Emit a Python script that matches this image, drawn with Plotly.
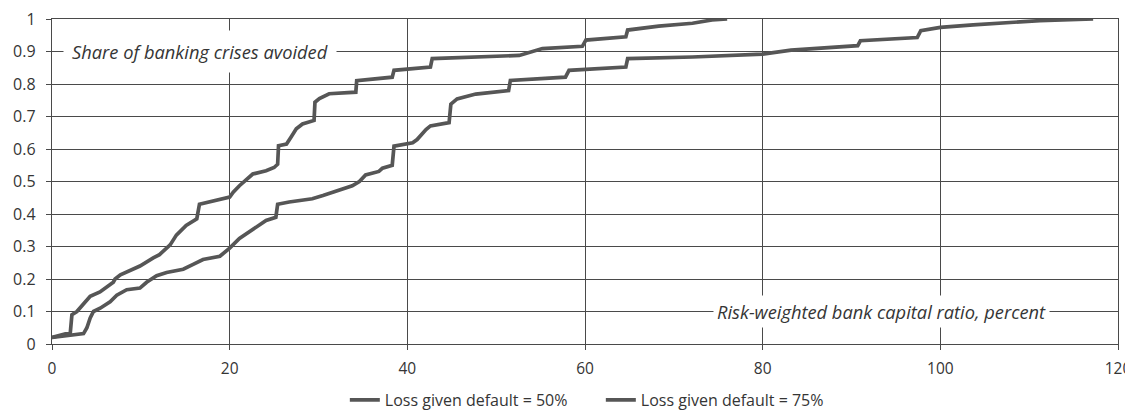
import plotly.graph_objects as go

# Loss given default = 50%
lgd50_x = [0, 2.06, 2.24, 2.8, 4.3, 5.4, 6.9, 7.1, 7.7, 9.9, 11.4, 12.1, 13.3, 14.0, 15.1, 16.3, 16.6,
           20.0, 20.4, 21.1, 22.6, 24.1, 25.0, 25.4, 25.5, 26.4, 26.9, 27.5, 28.2, 29.5, 29.6, 30.1,
           31.2, 34.2, 34.3, 36.8, 38.3, 38.5, 42.6, 42.8, 52.6, 55.2, 59.7, 60.1, 64.6, 64.8, 68.3,
           72.1, 74.3, 76.0]
lgd50_y = [0.02, 0.035, 0.09, 0.10, 0.147, 0.16, 0.19, 0.20, 0.213, 0.24, 0.265, 0.275, 0.305, 0.335,
           0.365, 0.385, 0.43, 0.452, 0.467, 0.487, 0.523, 0.533, 0.543, 0.553, 0.61, 0.615, 0.636,
           0.662, 0.677, 0.688, 0.744, 0.755, 0.77, 0.775, 0.81, 0.817, 0.821, 0.842, 0.852, 0.878,
           0.888, 0.909, 0.916, 0.935, 0.945, 0.966, 0.978, 0.987, 0.997, 1.0]

# Loss given default = 75%
lgd75_x = [0, 3.55, 3.93, 4.3, 4.67, 5.42, 6.54, 7.29, 8.41, 9.9, 10.65, 11.78, 12.9, 14.77, 15.89,
           17.0, 18.9, 20.0, 21.1, 22.2, 23.4, 24.1, 25.2, 25.4, 26.7, 29.3, 30.5, 31.6, 33.8, 34.6,
           35.3, 36.8, 37.2, 38.3, 38.5, 40.6, 41.1, 42.1, 42.6, 44.7, 44.9, 45.6, 47.7, 51.4, 51.6,
           57.8, 58.2, 64.6, 64.8, 72.1, 80.0, 83.2, 90.7, 91.0, 97.4, 97.8, 100.0, 103.7, 107.5,
           111.2, 117.2]
lgd75_y = [0.02, 0.032, 0.05, 0.08, 0.10, 0.11, 0.13, 0.15, 0.167, 0.172, 0.19, 0.21, 0.22, 0.23,
           0.245, 0.26, 0.27, 0.295, 0.325, 0.345, 0.365, 0.38, 0.39, 0.43, 0.437, 0.447, 0.457,
           0.467, 0.487, 0.5, 0.52, 0.531, 0.541, 0.55, 0.609, 0.619, 0.629, 0.66, 0.671, 0.681,
           0.738, 0.754, 0.769, 0.78, 0.811, 0.821, 0.842, 0.852, 0.878, 0.883, 0.892, 0.904,
           0.918, 0.933, 0.943, 0.964, 0.974, 0.982, 0.99, 0.995, 1.0]

series_names = ["Loss given default = 50%", "Loss given default = 75%"]
x_ticks = [0, 20, 40, 60, 80, 100, 120]
y_ticks = [0, 0.1, 0.2, 0.3, 0.4, 0.5, 0.6, 0.7, 0.8, 0.9, 1]
y_tick_text = ["0", "0.1", "0.2", "0.3", "0.4", "0.5", "0.6", "0.7", "0.8", "0.9", "1"]

FONT = "Open Sans"
TEXT_COLOR = "#353535"
LINE_COLOR = "#565656"
GRID_COLOR = "#4a4a4a"

fig = go.Figure()
fig.add_trace(go.Scatter(x=lgd50_x, y=lgd50_y, mode="lines", name=series_names[0],
                         line=dict(color=LINE_COLOR, width=3.7)))
fig.add_trace(go.Scatter(x=lgd75_x, y=lgd75_y, mode="lines", name=series_names[1],
                         line=dict(color=LINE_COLOR, width=3.7)))

tickfont = dict(family=FONT, size=16, color=TEXT_COLOR)

# the page body has an 8px margin, so the figure is sized to fill the rest of the window
fig.update_layout(
    width=1125, height=402,
    margin=dict(l=44, r=15, t=11, b=66, autoexpand=False),
    paper_bgcolor="white", plot_bgcolor="white",
    font=dict(family=FONT, size=14, color=TEXT_COLOR),
    showlegend=True,
    legend=dict(orientation="h", x=0.2747, xanchor="left", y=-0.172, yanchor="middle",
                font=dict(family=FONT, size=16, color=TEXT_COLOR),
                entrywidth=211, entrywidthmode="pixels", tracegroupgap=0,
                bgcolor="rgba(0,0,0,0)"),
    xaxis=dict(range=[0, 120], tickvals=x_ticks, showgrid=True, gridcolor=GRID_COLOR, gridwidth=1.4,
               showline=True, linecolor=GRID_COLOR, linewidth=1.4, mirror=True, zeroline=False,
               ticks="outside", ticklen=5, tickcolor=GRID_COLOR, tickwidth=1.2,
               ticklabelstandoff=5, automargin=False, ticklabeloverflow="allow",
               tickfont=dict(family=FONT, size=15.5, color=TEXT_COLOR)),
    yaxis=dict(range=[0, 1], tickvals=y_ticks, ticktext=y_tick_text, showgrid=True,
               gridcolor=GRID_COLOR, gridwidth=1.4, showline=True, linecolor=GRID_COLOR,
               linewidth=1.4, mirror=True, zeroline=False, ticks="outside", ticklen=5,
               tickcolor=GRID_COLOR, tickwidth=1.2, ticklabelstandoff=7, automargin=False,
               ticklabeloverflow="allow", tickfont=tickfont),
    annotations=[
        dict(x=16.7, y=0.9, xref="x", yref="y", text="<i>Share of banking crises avoided</i>",
             showarrow=False, bgcolor="white", borderpad=8,
             font=dict(family=FONT, size=18.3, color=TEXT_COLOR)),
        dict(x=93.4, y=0.1, xref="x", yref="y",
             text="<i>Risk-weighted bank capital ratio, percent</i>",
             showarrow=False, bgcolor="white", borderpad=3,
             font=dict(family=FONT, size=18.3, color=TEXT_COLOR)),
    ],
)

fig.write_html("out.html")
